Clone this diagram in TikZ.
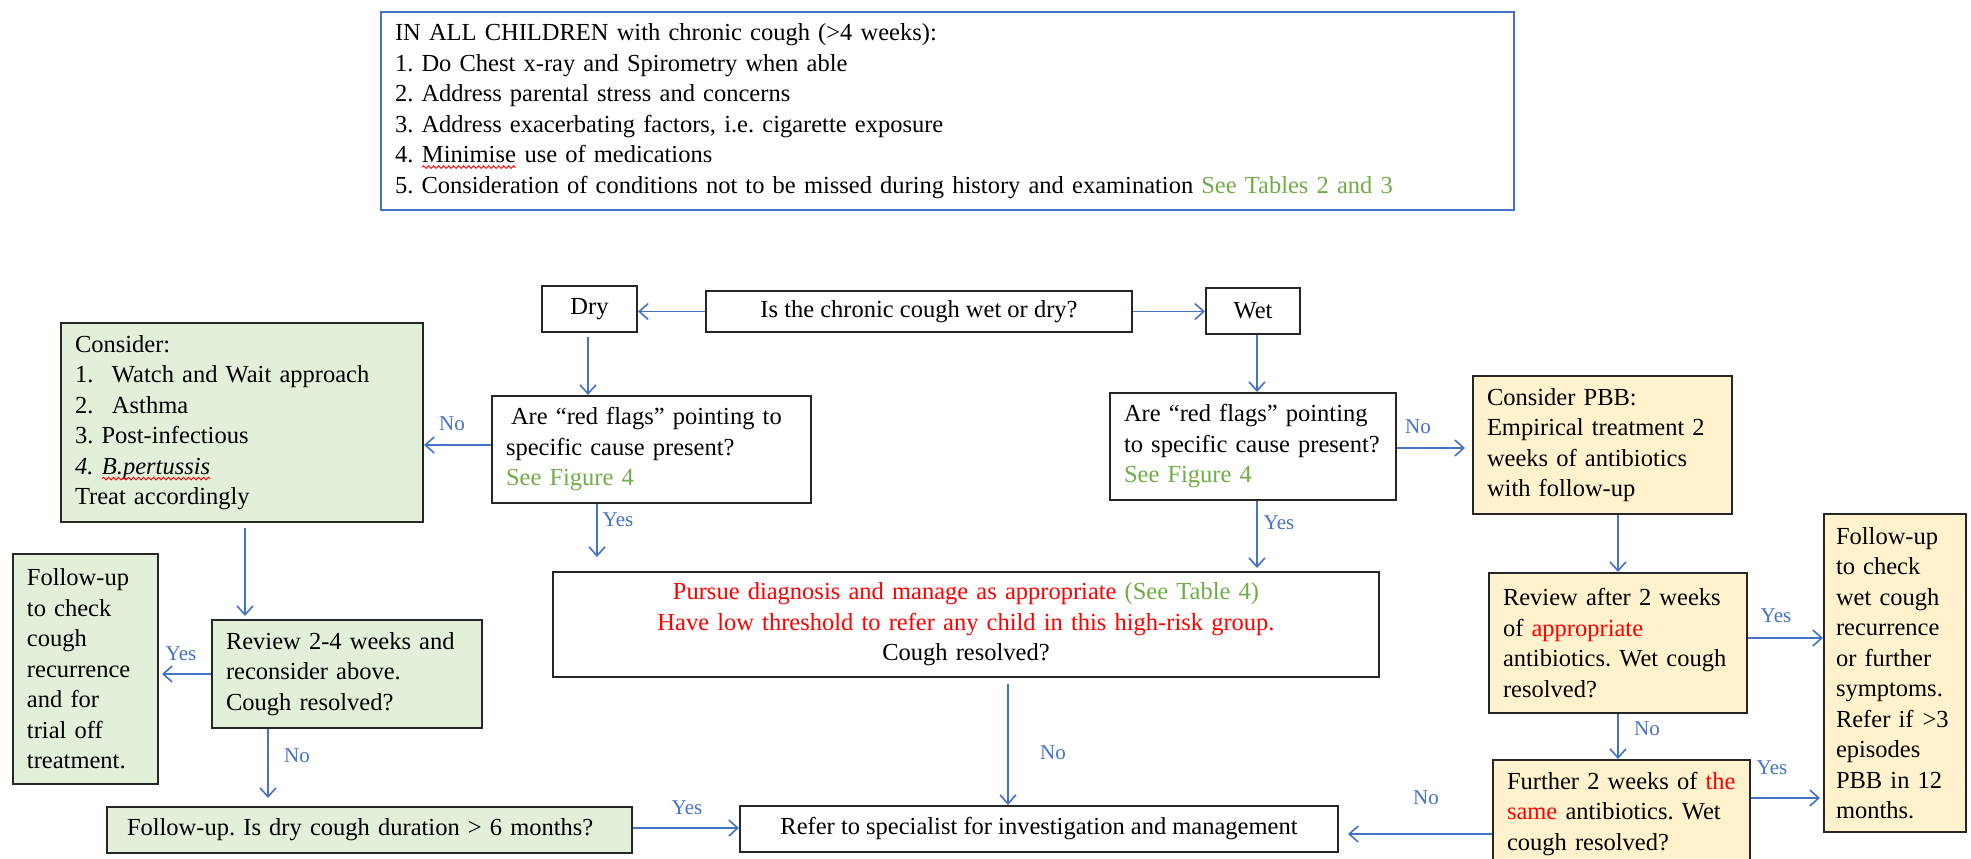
\documentclass[tikz,border=0pt]{standalone}
\usepackage{fontspec}
\setmainfont{Liberation Serif}
\usetikzlibrary{arrows.meta,decorations.pathmorphing}
\definecolor{arrowblue}{HTML}{4472C4}
\definecolor{seegreen}{HTML}{70AD47}
\definecolor{greenfill}{HTML}{E2EFD9}
\definecolor{yellowfill}{HTML}{FFF2CC}
\definecolor{boxline}{HTML}{262626}
\definecolor{alertred}{HTML}{FF0000}
\newcommand{\spellerr}[1]{\tikz[baseline=(spw.base)]{\node[inner sep=0pt,outer sep=0pt,minimum width=0pt,minimum height=0pt,text width={},draw=none,fill=none,anchor=base,font={}] (spw) {#1};\draw[alertred,line width=0.9pt,decorate,decoration={snake,amplitude=1.3pt,segment length=5pt}] ([yshift=-4.5pt]spw.base west) -- ([yshift=-4.5pt]spw.base east);}}
\newcommand{\bodyfont}{\fontsize{24.5}{30.5}\selectfont\frenchspacing}
\newcommand{\lblfont}{\fontsize{21}{24}\selectfont}
\tikzset{
  box/.style={draw=boxline, line width=2pt, inner xsep=14pt, inner ysep=0pt, font=\bodyfont, align=left},
  gbox/.style={box, fill=greenfill},
  ybox/.style={box, fill=yellowfill},
  cbox/.style={box, align=center},
  arr/.style={draw=arrowblue, line width=1.6pt, -{Straight Barb[length=9pt,width=16pt]}},
  lbl/.style={text=arrowblue, font=\lblfont, inner sep=0pt},
}
\begin{document}
\begin{tikzpicture}[x=1pt,y=-1pt]
\useasboundingbox (0,0) rectangle (1971,859);
\fill[white] (0,0) rectangle (1971,859);

% top box
\node[box, draw=arrowblue, line width=1.6pt, minimum width=1133pt, minimum height=198pt, text width=1105pt] (top) at (947.5,111)
{IN ALL CHILDREN with chronic cough (>4 weeks):\\
1. Do Chest x-ray and Spirometry when able\\
2. Address parental stress and concerns\\
3. Address exacerbating factors, i.e. cigarette exposure\\
4. \spellerr{Minimise} use of medications\\
5. Consideration of conditions not to be missed during history and examination \textcolor{seegreen}{See Tables 2 and 3}};

% first row
\node[cbox, minimum width=426pt, minimum height=41pt] (q) at (919,311.5) {Is the chronic cough wet or dry?};
\node[cbox, minimum width=95pt, minimum height=46pt] (dry) at (589.5,309) {Dry};
\node[cbox, minimum width=94pt, minimum height=46pt] (wet) at (1253,311) {Wet};

% dry branch
\node[box, minimum width=319pt, minimum height=107pt, text width=291pt] (rfd) at (651.5,449.5)
{\hspace*{5pt}Are “red flags” pointing to\\ specific cause present?\\ \textcolor{seegreen}{See Figure 4}};
\node[gbox, minimum width=362pt, minimum height=199pt, text width=334pt] (consider) at (242,422.5)
{Consider:\\
\makebox[37pt][l]{1.}Watch and Wait approach\\
\makebox[37pt][l]{2.}Asthma\\
3. Post-infectious\\
\textit{4. \spellerr{B.pertussis}}\\
Treat accordingly};
\node[gbox, minimum width=270pt, minimum height=108pt, text width=242pt] (revg) at (347,674)
{Review 2-4 weeks and\\ reconsider above.\\ Cough resolved?};
\node[gbox, minimum width=145pt, minimum height=230pt, text width=117pt] (ful) at (85.5,669)
{Follow-up\\ to check\\ cough\\ recurrence\\ and for\\ trial off\\ treatment.};
\node[gbox, inner xsep=20pt, minimum width=525pt, minimum height=46pt, text width=485pt] (dur) at (369.5,830)
{Follow-up. Is dry cough duration > 6 months?};

% middle
\node[cbox, minimum width=826pt, minimum height=105pt, text width=798pt] (pursue) at (966,624.5)
{\textcolor{alertred}{Pursue diagnosis and manage as appropriate} \textcolor{seegreen}{(See Table 4)}\\
\textcolor{alertred}{Have low threshold to refer any child in this high-risk group.}\\
Cough resolved?};
\node[cbox, minimum width=598pt, minimum height=46pt] (refer) at (1039,829)
{Refer to specialist for investigation and management};

% wet branch
\node[box, minimum width=286pt, minimum height=107pt, text width=258pt] (rfw) at (1253,446.5)
{Are “red flags” pointing\\ to specific cause present?\\ \textcolor{seegreen}{See Figure 4}};
\node[ybox, minimum width=259pt, minimum height=138pt, text width=231pt] (pbb) at (1602.5,445)
{Consider PBB:\\ Empirical treatment 2\\ weeks of antibiotics\\ with follow-up};
\node[ybox, minimum width=258pt, minimum height=140pt, text width=230pt] (revp) at (1618,643)
{Review after 2 weeks\\ of \textcolor{alertred}{appropriate}\\ antibiotics. Wet cough\\ resolved?};
\node[ybox, minimum width=257pt, minimum height=108pt, text width=229pt] (further) at (1621.5,814)
{Further 2 weeks of \textcolor{alertred}{the}\\ \textcolor{alertred}{same} antibiotics. Wet\\ cough resolved?};
\node[ybox, inner xsep=12pt, minimum width=142pt, minimum height=318pt, text width=118pt] (fur) at (1895,673)
{Follow-up\\ to check\\ wet cough\\ recurrence\\ or further\\ symptoms.\\ \mbox{Refer if\hspace{9pt}>3}\\ episodes\\ PBB in 12\\ months.};

% connectors
\draw[arr] (q.west) -- (q.west -| dry.east);
\draw[arr] (q.east) -- (q.east -| wet.west);
\draw[arr, shorten <=4pt] (588,0 |- dry.south) -- (588,0 |- rfd.north);
\draw[arr] (1257,0 |- wet.south) -- (1257,0 |- rfw.north);
\draw[arr] (rfd.west |- 0,445) -- (consider.east |- 0,445);
\draw[arr, shorten >=7pt] (rfw.east |- 0,448) -- (pbb.west |- 0,448);
\draw[arr, shorten >=14pt] (597,0 |- rfd.south) -- (597,0 |- pursue.north);
\draw[arr, shorten >=3pt] (1257,0 |- rfw.south) -- (1257,0 |- pursue.north);
\draw[arr, shorten <=5pt, shorten >=3pt] (245,0 |- consider.south) -- (245,0 |- revg.north);
\draw[arr, shorten >=3pt] (revg.west |- 0,674) -- (ful.east |- 0,674);
\draw[arr, shorten >=8pt] (268,0 |- revg.south) -- (268,0 |- dur.north);
\draw[arr] (dur.east |- 0,828) -- (refer.west |- 0,828);
\draw[arr, shorten <=6pt] (1008,0 |- pursue.south) -- (1008,0 |- refer.north);
\draw[arr, shorten >=9pt] (further.west |- 0,834) -- (refer.east |- 0,834);
\draw[arr] (revp.north |- pbb.south) -- (revp.north);
\draw[arr] (revp.east |- 0,638) -- (fur.west |- 0,638);
\draw[arr] (revp.south) -- (revp.south |- further.north);
\draw[arr, shorten >=3pt] (further.east |- 0,798) -- (fur.west |- 0,798);

% labels
\node[lbl] (l1) at (452,424) {No};
\node[lbl] (l2) at (1418,427) {No};
\node[lbl] (l3) at (618,520) {Yes};
\node[lbl] (l4) at (1279,523) {Yes};
\node[lbl] (l5) at (181,654) {Yes};
\node[lbl] (l6) at (297,756) {No};
\node[lbl] (l7) at (687,808) {Yes};
\node[lbl] (l8) at (1053,753) {No};
\node[lbl] (l9) at (1426,798) {No};
\node[lbl] (l10) at (1776,616) {Yes};
\node[lbl] (l11) at (1647,729) {No};
\node[lbl] (l12) at (1772,768) {Yes};
\end{tikzpicture}
\end{document}
